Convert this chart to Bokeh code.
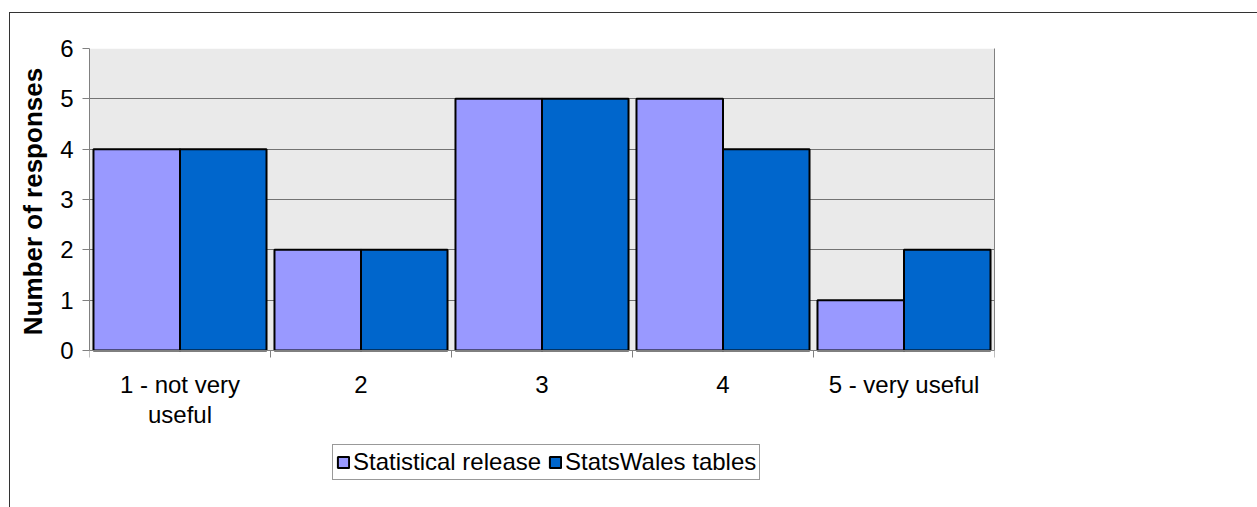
import numpy as np
from bokeh.plotting import figure
from bokeh.models import (Range1d, FixedTicker, Legend, LegendItem, LinearAxis,
                          BoxAnnotation, InlineStyleSheet, ColumnDataSource, Title)
from bokeh.embed import file_html
from bokeh.resources import INLINE

# Survey responses: usefulness rating of each output
categories = ["1 - not very\nuseful", "2", "3", "4", "5 - very useful"]
statistical_release = [4, 2, 5, 5, 1]
statswales_tables = [4, 2, 5, 4, 2]
series_names = ["Statistical release", "StatsWales tables"]
y_ticks = [0, 1, 2, 3, 4, 5, 6]
y_title = "Number of responses"

FONT = "Liberation Sans"
FS = "24px"
TITLE_PX = 26
BAR_W = 0.478

# layout (pixels): the frame runs down to the bottom so the legend can sit
# below the value axis; the data area itself spans 48..350
W, H = 1257, 507
TOP, PLOT_BOTTOM, BOTTOM_MARGIN = 48, 350, 7
frame_bottom = H - BOTTOM_MARGIN
y_max = max(y_ticks)
px_per_unit = (PLOT_BOTTOM - TOP) / y_max
y_start = -(frame_bottom - PLOT_BOTTOM) / px_per_unit

# approximate rendered length of the bold axis title (Arial metrics, em units)
_bold_em = {"N": .722, "u": .611, "m": .889, "b": .611, "e": .556, "r": .389,
            " ": .278, "o": .611, "f": .333, "s": .556, "p": .611, "n": .611}
title_len = sum(_bold_em.get(ch, .6) for ch in y_title) * TITLE_PX
title_offset = (frame_bottom - (TOP + PLOT_BOTTOM) / 2) - title_len / 2 - 2

centers = np.arange(len(categories)) + 0.5
src_a = ColumnDataSource(dict(x=centers - BAR_W / 2, top=statistical_release))
src_b = ColumnDataSource(dict(x=centers + BAR_W / 2, top=statswales_tables))

p = figure(width=W, height=H, output_backend="svg", toolbar_location=None,
           x_range=Range1d(0, len(categories)), y_range=Range1d(y_start, y_max),
           x_axis_location=None, y_axis_location=None,
           min_border_left=89, min_border_right=263, min_border_top=TOP,
           min_border_bottom=BOTTOM_MARGIN)

p.background_fill_color = "white"
p.border_fill_color = "white"
p.outline_line_color = None

# grey plot area
p.add_layout(BoxAnnotation(left=0, right=len(categories), bottom=0, top=y_max,
                           fill_color="#EAEAEA", fill_alpha=1, line_color=None,
                           level="image"))

r_a = p.vbar(x="x", top="top", width=BAR_W, source=src_a, fill_color="#9999FF",
             line_color="black", line_width=2)
r_b = p.vbar(x="x", top="top", width=BAR_W, source=src_b, fill_color="#0066CC",
             line_color="black", line_width=2)

# y axis
yax = LinearAxis(ticker=FixedTicker(ticks=y_ticks), bounds=(0, y_max))
yax.axis_line_color = "#808080"
yax.major_tick_line_color = "#808080"
yax.major_tick_out = 7
yax.major_tick_in = 0
yax.minor_tick_line_color = None
yax.major_label_text_font = FONT
yax.major_label_text_font_size = FS
yax.major_label_text_color = "black"
yax.major_label_standoff = 9
p.add_layout(yax, "left")

# axis title, centred on the 0..6 part of the value axis
p.add_layout(Title(text=y_title, align="left", offset=title_offset,
                   text_font=FONT, text_font_size=f"{TITLE_PX}px",
                   text_font_style="bold", text_color="black", standoff=20),
             "left")

# right edge of the plot area
rax = LinearAxis(ticker=FixedTicker(ticks=[]), bounds=(0, y_max))
rax.axis_line_color = "#808080"
rax.major_tick_line_color = None
rax.minor_tick_line_color = None
rax.major_label_text_font_size = "0px"
p.add_layout(rax, "right")

# x axis at y=0: labels at category centres, tick marks at category boundaries
xax = LinearAxis(ticker=FixedTicker(ticks=list(centers),
                                    minor_ticks=list(range(len(categories) + 1))),
                 fixed_location=0)
xax.major_label_overrides = {float(c): lab for c, lab in zip(centers, categories)}
xax.axis_line_color = "#808080"
xax.major_tick_line_color = None
xax.major_tick_out = 0
xax.minor_tick_line_color = "#808080"
xax.minor_tick_out = 7
xax.minor_tick_in = 0
xax.major_label_text_font = FONT
xax.major_label_text_font_size = FS
xax.major_label_text_line_height = 1.12
xax.major_label_text_color = "black"
xax.major_label_standoff = 13
p.add_layout(xax, "below")

p.xgrid.grid_line_color = None
p.ygrid.ticker = FixedTicker(ticks=y_ticks)
p.ygrid.grid_line_color = "#737373"
p.ygrid.grid_line_width = 1

legend = Legend(items=[LegendItem(label=series_names[0], renderers=[r_a]),
                       LegendItem(label=series_names[1], renderers=[r_b])],
                orientation="horizontal", location=(243, 20),
                label_text_font=FONT, label_text_font_size=FS,
                label_text_color="black", glyph_width=14, glyph_height=14,
                label_standoff=3, spacing=7, padding=3, margin=0,
                border_line_color="#333333", border_line_width=1,
                background_fill_color="white", background_fill_alpha=1)
p.add_layout(legend, "center")

# chart-area border along the left and top edges
p.stylesheets = [InlineStyleSheet(css=(
    ":host { position: relative; }"
    ":host::after { content: ''; position: absolute; left: 9px; top: 12px;"
    " right: 0; bottom: 0; border-left: 1.5px solid #333;"
    " border-top: 1.5px solid #333; pointer-events: none; }"))]

open("out.html", "w").write(file_html(p, INLINE))
